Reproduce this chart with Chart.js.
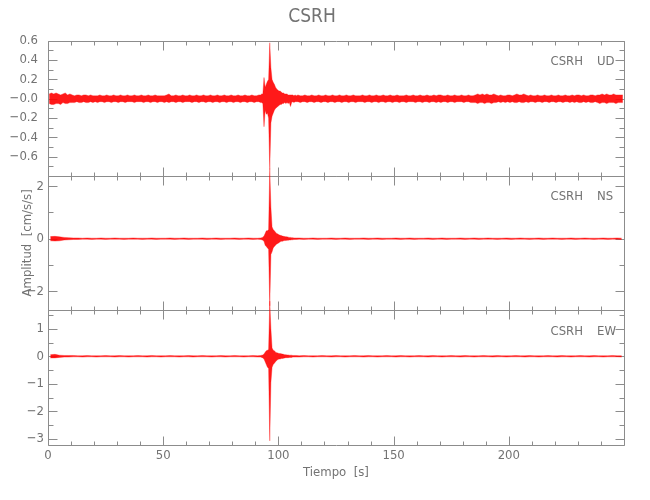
<!DOCTYPE html>
<html>
<head>
<meta charset="utf-8">
<script src="https://cdn.jsdelivr.net/npm/chart.js@4.4.1/dist/chart.umd.min.js"></script>
<style>
  html, body { margin: 0; padding: 0; background: #fff; }
  #wrap { width: 650px; height: 500px; }
</style>
</head>
<body>
<div id="wrap"><canvas id="seis"></canvas></div>
<script>
// station / components
const station = 'CSRH';
const components = ['UD', 'NS', 'EW'];

// traces are min/max per time bin: before the event, the event, after the event
const preStart = 0, evStart = 92, postStart = 108;
const udBins = [1, 0.5, 1];   // bin width [s] for each part
const hzBins = [2, 0.5, 2];

// UD [cm/s/s]
const udPreHi = [
  .05,.06,.05,.06,.05,.04,.05,.06,.04,.05, .04,.03,.04,.04,.03,.04,.04,.03,.04,.03,
  .03,.03,.04,.03,.03,.04,.03,.03,.04,.03, .03,.04,.03,.03,.04,.03,.03,.04,.03,.03,
  .04,.03,.03,.04,.03,.03,.04,.03,.03,.03, .03,.04,.05,.03,.03,.04,.03,.03,.04,.03,
  .03,.04,.03,.03,.04,.03,.03,.04,.03,.03, .04,.03,.03,.04,.03,.03,.04,.03,.03,.04,
  .03,.03,.04,.03,.03,.04,.03,.03,.04,.03, .03,.04
];
const udPreLo = [
  -.05,-.06,-.06,-.05,-.05,-.06,-.04,-.05,-.05,-.04, -.04,-.04,-.03,-.04,-.04,-.03,-.04,-.04,-.03,-.04,
  -.03,-.04,-.03,-.03,-.04,-.03,-.03,-.04,-.03,-.03, -.04,-.03,-.03,-.04,-.03,-.03,-.03,-.04,-.03,-.03,
  -.03,-.04,-.03,-.03,-.04,-.03,-.03,-.04,-.03,-.03, -.04,-.03,-.04,-.03,-.03,-.04,-.03,-.03,-.04,-.03,
  -.03,-.03,-.04,-.03,-.03,-.04,-.03,-.03,-.04,-.03, -.03,-.04,-.03,-.03,-.04,-.03,-.03,-.04,-.03,-.03,
  -.04,-.03,-.03,-.04,-.03,-.03,-.04,-.03,-.03,-.04, -.03,-.03
];
const udEvHi = [
  .04,.05,.05,.22,.12,.15,.18,.2, .58,.32,.2,.17,.15,.12,.1,.09,
  .08,.08,.07,.06,.06,.05,.05,.05, .04,.04,.04,.04,.04,.03,.04,.03
];
const udEvLo = [
  -.04,-.04,-.05,-.29,-.12,-.16,-.15,-.2, -.73,-.25,-.18,-.15,-.12,-.1,-.09,-.08,
  -.07,-.06,-.06,-.05,-.05,-.04,-.05,-.04, -.05,-.04,-.08,-.04,-.03,-.04,-.03,-.03
];
const udPostHi = [
  .04,.03,.03,.04,.03,.03,.04,.03,.03,.04, .03,.03,.04,.03,.03,.04,.03,.03,.04,.03,
  .03,.04,.03,.03,.04,.03,.03,.03,.04,.03, .03,.04,.03,.03,.04,.03,.03,.04,.03,.03,
  .04,.03,.03,.04,.03,.03,.03,.04,.03,.03, .04,.03,.03,.04,.03,.03,.04,.03,.03,.04,
  .03,.04,.04,.03,.03,.04,.03,.03,.04,.03, .03,.04,.03,.03,.04,.03,.03,.04,.05,.04,
  .05,.04,.05,.04,.04,.05,.04,.03,.04,.03, .03,.04,.04,.03,.04,.05,.04,.04,.05,.04,
  .03,.04,.03,.03,.04,.03,.03,.04,.03,.03, .04,.03,.03,.04,.03,.03,.04,.03,.03,.04,
  .03,.04,.04,.03,.04,.03,.03,.04,.04,.03, .04,.04,.05,.04,.05,.04,.04,.05,.04,.04,
  .04,.04
];
const udPostLo = [
  -.03,-.04,-.03,-.03,-.04,-.03,-.03,-.04,-.03,-.03, -.04,-.03,-.03,-.04,-.03,-.03,-.04,-.03,-.03,-.04,
  -.03,-.03,-.04,-.03,-.03,-.04,-.03,-.03,-.03,-.04, -.03,-.03,-.04,-.03,-.03,-.04,-.03,-.03,-.04,-.03,
  -.03,-.04,-.03,-.03,-.04,-.03,-.03,-.04,-.03,-.03, -.03,-.04,-.03,-.03,-.04,-.03,-.03,-.04,-.03,-.03,
  -.04,-.03,-.04,-.03,-.03,-.04,-.03,-.03,-.04,-.03, -.03,-.03,-.04,-.03,-.03,-.04,-.04,-.04,-.05,-.04,
  -.04,-.05,-.04,-.04,-.05,-.04,-.04,-.03,-.04,-.03, -.04,-.03,-.04,-.03,-.04,-.04,-.03,-.04,-.04,-.03,
  -.04,-.03,-.03,-.04,-.03,-.03,-.04,-.03,-.03,-.04, -.03,-.03,-.04,-.03,-.03,-.04,-.03,-.03,-.04,-.03,
  -.04,-.03,-.04,-.04,-.03,-.04,-.03,-.04,-.04,-.03, -.04,-.05,-.04,-.04,-.05,-.04,-.04,-.04,-.05,-.04,
  -.04,-.04
];

// NS
const nsPreHi = [
  .08,.09,.07,.05,.04,.03,.03,.02,.03,.02, .02,.03,.02,.02,.03,.02,.02,.02,.03,.02,
  .02,.02,.03,.02,.02,.02,.03,.02,.02,.03, .02,.02,.02,.03,.02,.02,.03,.02,.02,.02,
  .03,.02,.02,.03,.02,.02
];
const nsPreLo = [
  -.08,-.09,-.08,-.05,-.04,-.03,-.03,-.02,-.02,-.03, -.02,-.02,-.03,-.02,-.02,-.02,-.03,-.02,-.02,-.02,
  -.03,-.02,-.02,-.03,-.02,-.02,-.02,-.03,-.02,-.02, -.03,-.02,-.02,-.02,-.03,-.02,-.02,-.03,-.02,-.02,
  -.02,-.03,-.02,-.02,-.03,-.02
];
const nsEvHi = [
  .03,.04,.06,.1,.2,.3,.3,.35, 2.67,1.2,.45,.35,.3,.25,.2,.18,
  .15,.13,.12,.1,.09,.08,.07,.07, .06,.05,.05,.04,.04,.03,.03,.03
];
const nsEvLo = [
  -.03,-.04,-.06,-.1,-.25,-.3,-.35,-.4, -2.56,-.6,-.5,-.35,-.3,-.25,-.2,-.18,
  -.15,-.12,-.1,-.1,-.08,-.07,-.07,-.06, -.06,-.05,-.05,-.04,-.04,-.03,-.03,-.03
];
const nsPostHi = [
  .03,.02,.02,.03,.02,.02,.02,.03,.02,.02, .03,.02,.02,.02,.03,.02,.02,.03,.02,.02,
  .02,.03,.02,.02,.03,.02,.02,.02,.03,.02, .02,.03,.02,.02,.02,.03,.02,.02,.03,.02,
  .02,.03,.02,.02,.02,.03,.02,.02,.03,.02, .02,.02,.03,.02,.02,.03,.02,.02,.02,.03,
  .02,.02,.03,.02,.02,.02,.03,.02,.02,.03, .02
];
const nsPostLo = [
  -.02,-.03,-.02,-.02,-.03,-.02,-.02,-.02,-.03,-.02, -.02,-.03,-.02,-.02,-.02,-.03,-.02,-.02,-.03,-.02,
  -.02,-.02,-.03,-.02,-.02,-.03,-.02,-.02,-.02,-.03, -.02,-.02,-.03,-.02,-.02,-.02,-.03,-.02,-.02,-.03,
  -.02,-.02,-.02,-.03,-.02,-.02,-.03,-.02,-.02,-.02, -.03,-.02,-.02,-.03,-.02,-.02,-.02,-.03,-.02,-.02,
  -.03,-.02,-.02,-.02,-.03,-.02,-.02,-.03,-.02,-.02, -.03
];

// EW
const ewPreHi = [
  .06,.07,.04,.03,.03,.03,.02,.02,.03,.02, .02,.02,.03,.02,.02,.03,.02,.02,.02,.03,
  .02,.02,.03,.02,.02,.02,.03,.02,.02,.02, .03,.02,.02,.03,.02,.02,.02,.03,.02,.02,
  .03,.02,.02,.02,.03,.02
];
const ewPreLo = [
  -.06,-.06,-.04,-.03,-.03,-.02,-.02,-.03,-.02,-.02, -.03,-.02,-.02,-.02,-.03,-.02,-.02,-.03,-.02,-.02,
  -.02,-.03,-.02,-.02,-.03,-.02,-.02,-.02,-.03,-.02, -.02,-.03,-.02,-.02,-.02,-.03,-.02,-.02,-.03,-.02,
  -.02,-.02,-.03,-.02,-.02,-.03
];
const ewEvHi = [
  .03,.04,.05,.08,.15,.2,.22,.25, 2.0,1.0,.3,.22,.2,.15,.13,.12,
  .1,.1,.09,.08,.07,.06,.06,.05, .05,.04,.04,.04,.03,.03,.03,.03
];
const ewEvLo = [
  -.03,-.04,-.06,-.1,-.2,-.3,-.4,-.43, -3.07,-.95,-.4,-.3,-.25,-.2,-.15,-.12,
  -.1,-.1,-.08,-.08,-.07,-.06,-.05,-.05, -.05,-.04,-.04,-.04,-.03,-.03,-.03,-.03
];
const ewPostHi = [
  .02,.03,.02,.02,.02,.03,.02,.02,.03,.02, .02,.02,.03,.02,.02,.03,.02,.02,.02,.03,
  .02,.02,.03,.02,.02,.02,.03,.02,.02,.03, .02,.02,.02,.03,.02,.02,.03,.02,.02,.02,
  .03,.02,.02,.03,.02,.02,.02,.03,.02,.02, .03,.02,.02,.02,.03,.02,.02,.03,.02,.02,
  .02,.03,.02,.02,.03,.02,.02,.02,.03,.02, .02
];
const ewPostLo = [
  -.03,-.02,-.02,-.03,-.02,-.02,-.02,-.03,-.02,-.02, -.03,-.02,-.02,-.02,-.03,-.02,-.02,-.03,-.02,-.02,
  -.02,-.03,-.02,-.02,-.03,-.02,-.02,-.02,-.03,-.02, -.02,-.03,-.02,-.02,-.02,-.03,-.02,-.02,-.03,-.02,
  -.02,-.02,-.03,-.02,-.02,-.03,-.02,-.02,-.02,-.03, -.02,-.02,-.03,-.02,-.02,-.02,-.03,-.02,-.02,-.03,
  -.02,-.02,-.02,-.03,-.02,-.02,-.03,-.02,-.02,-.02, -.03
];

// axes
const timeRange = [0, 250];
const timeTicks = [0, 50, 100, 150, 200];
const udRange = [-0.795, 0.6];
const nsRange = [-2.73, 2.41];
const ewRange = [-3.22, 1.67];
const udTicks = [-0.6, -0.4, -0.2, 0, 0.2, 0.4, 0.6];
const nsTicks = [-2, 0, 2];
const ewTicks = [-3, -2, -1, 0, 1];
const minorSteps = { x: 10, yUD: 0.1, yNS: 1, yEW: 0.5 };

const axisColor = '#8c8c8c';
const textColor = '#737373';
const fontFamily = "'Liberation Sans Narrow', 'DejaVu Sans Condensed', sans-serif";

// points at the bin centres, one series for the max and one for the min
function envelope(parts, widths, which) {
  const starts = [preStart, evStart, postStart];
  const pts = [];
  parts.forEach((p, k) => {
    p[which].forEach((v, i) => pts.push({ x: starts[k] + (i + 0.5) * widths[k], y: v }));
  });
  return pts;
}

function minus(s) { return s.replace('-', '\u2212'); }

function yScale(range, ticks, fmt, pad, extra) {
  return Object.assign({
    type: 'linear',
    position: 'left',
    stack: 'seis',
    stackWeight: 1,
    min: range[0],
    max: range[1],
    afterBuildTicks: s => { s.ticks = ticks.map(v => ({ value: v })); },
    afterFit: s => { s.width = 48; },
    grid: { display: false, drawTicks: false },
    border: { display: false },
    ticks: {
      color: textColor, font: { family: fontFamily, size: 13 },
      padding: pad, autoSkip: false, callback: fmt
    }
  }, extra || {});
}

function traceSets(name, axis, parts, widths) {
  const common = {
    yAxisID: axis, borderColor: 'rgba(255,0,0,0.55)', backgroundColor: 'rgba(255,0,0,0.9)',
    borderWidth: 0.6, pointRadius: 0, tension: 0, clip: false
  };
  return [
    Object.assign({ label: name + ' max', data: envelope(parts, widths, 0), fill: false }, common),
    Object.assign({ label: name + ' min', data: envelope(parts, widths, 1), fill: '-1' }, common)
  ];
}

// frame with inward ticks on the four sides of every panel
const frames = {
  id: 'frames',
  beforeDatasetsDraw(chart) {
    const ctx = chart.ctx, xs = chart.scales.x;
    const l = Math.round(xs.left) + 0.5, r = Math.round(xs.right) + 0.5;
    ctx.save();
    ctx.strokeStyle = axisColor;
    ctx.lineWidth = 1;
    ['yUD', 'yNS', 'yEW'].forEach(id => {
      const s = chart.scales[id];
      const t = Math.round(s.top) + 0.5, b = Math.round(s.bottom) + 0.5;
      ctx.beginPath();
      ctx.rect(l, t, r - l, b - t);
      for (let v = timeRange[0]; v <= timeRange[1] + 1e-6; v += minorSteps.x) {
        const px = Math.round(xs.getPixelForValue(v)) + 0.5;
        const len = timeTicks.includes(v) ? 9 : 4;
        ctx.moveTo(px, t); ctx.lineTo(px, t + len);
        ctx.moveTo(px, b); ctx.lineTo(px, b - len);
      }
      const ym = minorSteps[id];
      const major = s.ticks.map(tk => tk.value);
      for (let k = Math.ceil(s.min / ym - 1e-6); k * ym <= s.max + 1e-6; k++) {
        const v = k * ym;
        const py = Math.round(s.getPixelForValue(v)) + 0.5;
        const len = major.some(m => Math.abs(m - v) < 1e-6) ? 9 : 5;
        ctx.moveTo(l, py); ctx.lineTo(l + len, py);
        ctx.moveTo(r, py); ctx.lineTo(r - len, py);
      }
      ctx.stroke();
    });
    ctx.restore();
  },
  afterDraw(chart) {
    const ctx = chart.ctx;
    ctx.save();
    ctx.fillStyle = textColor;
    ctx.font = '13px ' + fontFamily;
    ctx.textBaseline = 'middle';
    ['yUD', 'yNS', 'yEW'].forEach((id, i) => {
      const s = chart.scales[id];
      ctx.textAlign = 'right';
      ctx.fillText(station, 583, s.top + 21);
      ctx.textAlign = 'left';
      ctx.fillText(components[i], 597, s.top + 21);
    });
    ctx.restore();
  }
};

new Chart(document.getElementById('seis'), {
  type: 'line',
  data: {
    datasets: [].concat(
      traceSets('UD', 'yUD', [[udPreHi, udPreLo], [udEvHi, udEvLo], [udPostHi, udPostLo]], udBins),
      traceSets('NS', 'yNS', [[nsPreHi, nsPreLo], [nsEvHi, nsEvLo], [nsPostHi, nsPostLo]], hzBins),
      traceSets('EW', 'yEW', [[ewPreHi, ewPreLo], [ewEvHi, ewEvLo], [ewPostHi, ewPostLo]], hzBins)
    )
  },
  options: {
    responsive: true,
    maintainAspectRatio: false,
    animation: false,
    events: [],
    layout: { padding: { left: 0, right: 26, top: 0, bottom: 0 } },
    plugins: {
      legend: { display: false },
      tooltip: { enabled: false },
      title: {
        display: true, text: station, color: textColor,
        font: { family: fontFamily, size: 19, weight: 'normal' },
        padding: { top: 6, bottom: 12 }
      }
    },
    scales: {
      x: {
        type: 'linear',
        min: timeRange[0], max: timeRange[1],
        afterBuildTicks: s => { s.ticks = timeTicks.map(v => ({ value: v })); },
        afterFit: s => { s.height = 55; },
        grid: { display: false, drawTicks: false },
        border: { display: false },
        ticks: { color: textColor, font: { family: fontFamily, size: 13 }, padding: 3, maxRotation: 0, autoSkip: false },
        title: {
          display: true, text: 'Tiempo  [s]', color: textColor,
          font: { family: fontFamily, size: 13 }, padding: { top: 0, bottom: 20 }
        }
      },
      yEW: yScale(ewRange, ewTicks, v => minus(String(v)), 4),
      yNS: yScale(nsRange, nsTicks, v => minus(String(v)), 4, {
        title: {
          display: true, text: 'Amplitud  [cm/s/s]', color: textColor,
          font: { family: fontFamily, size: 13 }, padding: { top: 20, bottom: 0 }
        }
      }),
      yUD: yScale(udRange, udTicks, v => v === 0 ? '\u22120.0' : minus(v.toFixed(1)), 10)
    }
  },
  plugins: [frames]
});
</script>
</body>
</html>
